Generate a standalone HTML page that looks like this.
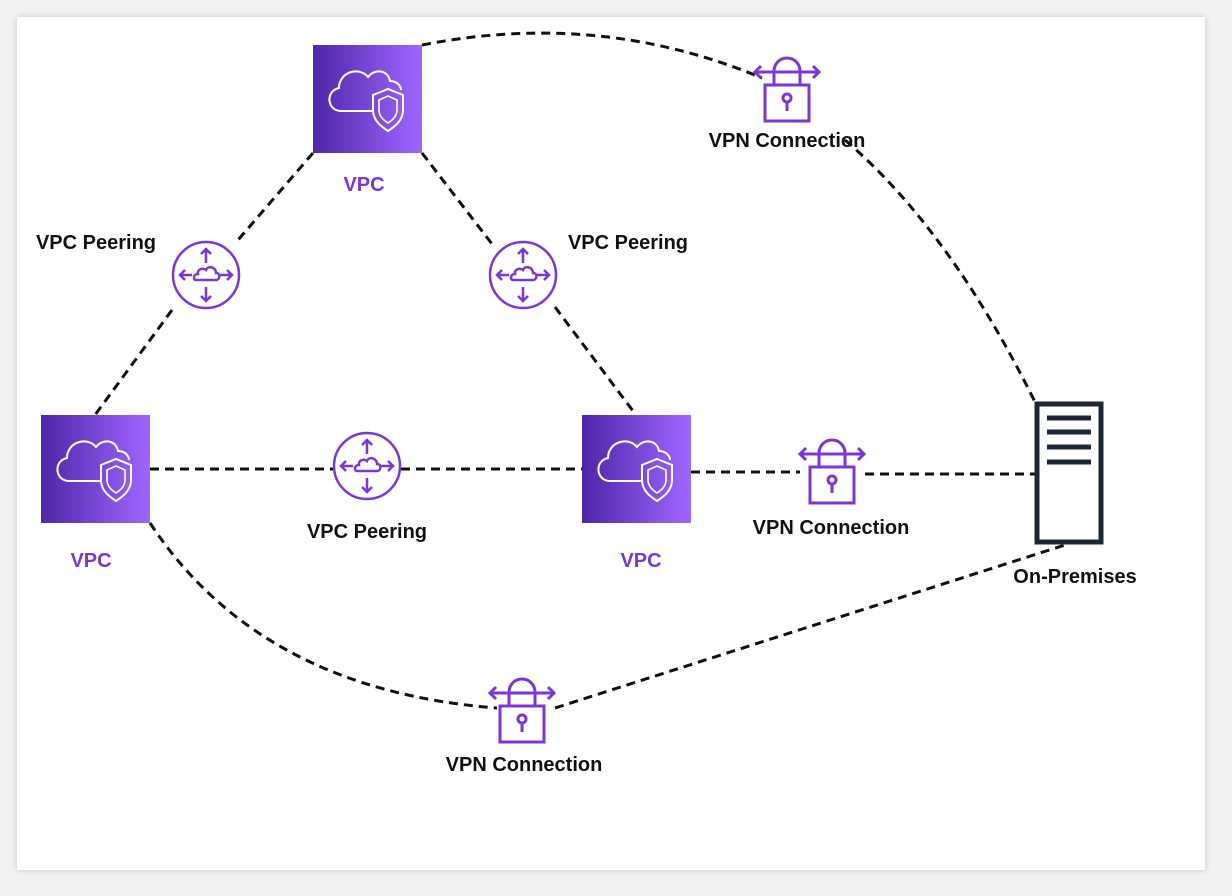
<!DOCTYPE html>
<html><head><style>
body{margin:0;background:#f2f2f2;}
.card{position:absolute;left:17px;top:17px;width:1188px;height:853px;background:#fff;box-shadow:0 0 6px rgba(0,0,0,.18);}
svg{position:absolute;left:0;top:0}
text{font-family:"Liberation Sans",sans-serif;font-weight:bold;font-size:20px;text-anchor:middle}
</style></head><body>
<div class="card"></div>
<svg width="1232" height="896" viewBox="0 0 1232 896">
<defs>
<linearGradient id="g" x1="0" x2="1" y1="0" y2="0"><stop offset="0" stop-color="#4d27a8"/><stop offset="1" stop-color="#a166ff"/></linearGradient>
<g id="vpc">
<rect x="0" y="0" width="109" height="108" fill="url(#g)"/>
<path d="M28 66 h32 M28 66 c-14 0 -16 -20 -2 -23 c0 -16 20 -22 29 -11 c7 -9 20 -7 22 4 c7 0 11 5 11 9" fill="none" stroke="#fff" stroke-width="2"/>
<path d="M60 50 l15 -6 l15 6 v15 c0 11 -9 17 -15 21 c-6 -4 -15 -10 -15 -21z" fill="none" stroke="#fff" stroke-width="2"/>
<path d="M66 55 l9 -4 l9 4 v10 c0 7 -6 11 -9 13 c-3 -2 -9 -6 -9 -13z" fill="none" stroke="#fff" stroke-width="1.6"/>
</g>
<g id="peer" fill="none" stroke="#7b36d8" stroke-width="2.5">
<circle r="33"/>
<path d="M0 -26 v14 M-5 -21 l5 -5 l5 5 M0 26 v-14 M-5 21 l5 5 l5 -5 M-26 0 h12 M-21 -5 l-5 5 l5 5 M26 0 h-12 M21 -5 l5 5 l-5 5"/>
<path d="M-10 5 h20 c4 0 5 -7 0 -7 c0 -6 -8 -8 -10 -3 c-4 -3 -9 0 -8 4 c-5 0 -5 6 -2 6z"/>
</g>
<g id="lock" fill="none" stroke="#7b36d8" stroke-width="3">
<rect x="-22" y="0" width="44" height="36"/>
<path d="M-13 0 v-14 a13 13 0 0 1 26 0 v14"/>
<path d="M-32 -13 h64 M-26 -19 l-6 6 l6 6 M26 -19 l6 6 l-6 6"/>
<circle cx="0" cy="13" r="4"/><path d="M0 17 v9"/>
</g>
</defs>
<g fill="none" stroke="#111" stroke-width="3" stroke-dasharray="9 6">
<path d="M422 45 Q600 10 762 78"/>
<path d="M845 140 Q950 230 1035 402"/>
<path d="M313 153 L238 240"/>
<path d="M172 310 L95 415"/>
<path d="M422 153 L492 244"/>
<path d="M555 307 L636 415"/>
<path d="M150 469 H333"/>
<path d="M401 469 H582"/>
<path d="M691 472 H800"/>
<path d="M865 474 H1035"/>
<path d="M150 523 Q260 690 497 708"/>
<path d="M555 708 L1065 545"/>
</g>
<use href="#vpc" x="313" y="45"/>
<use href="#vpc" x="41" y="415"/>
<use href="#vpc" x="582" y="415"/>
<use href="#peer" x="206" y="275"/>
<use href="#peer" x="523" y="275"/>
<use href="#peer" x="367" y="466"/>
<use href="#lock" x="787" y="85"/>
<use href="#lock" x="832" y="467"/>
<use href="#lock" x="522" y="706"/>
<rect x="1037" y="404" width="64" height="138" fill="#fff" stroke="#1d2633" stroke-width="5"/>
<g stroke="#1d2633" stroke-width="5"><path d="M1047 418h44M1047 432h44M1047 447h44M1047 462h44"/></g>
<g fill="#7b36d8"><text x="364" y="191">VPC</text><text x="91" y="567">VPC</text><text x="641" y="567">VPC</text></g>
<g fill="#111">
<text x="96" y="249">VPC Peering</text><text x="628" y="249">VPC Peering</text><text x="367" y="538">VPC Peering</text>
<text x="787" y="147">VPN Connection</text><text x="831" y="534">VPN Connection</text><text x="524" y="771">VPN Connection</text>
<text x="1075" y="583">On-Premises</text>
</g>
</svg>
</body></html>
